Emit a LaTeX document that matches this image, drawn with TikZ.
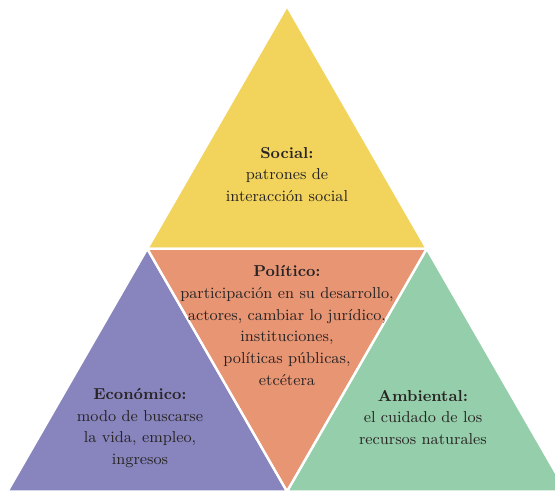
\documentclass[tikz,border=0pt]{standalone}
\usepackage{xcolor}
\usepackage{tikz}

\definecolor{socialyellow}{RGB}{242,212,92}
\definecolor{politicsalmon}{RGB}{232,149,116}
\definecolor{economicpurple}{RGB}{135,132,190}
\definecolor{ambientgreen}{RGB}{149,206,170}
\definecolor{textgrey}{RGB}{40,36,36}

\begin{document}
\begin{tikzpicture}
        % Define styles
        \tikzset{
            piece/.style={draw=white, line width=1.3pt, line join=round},
            areatext/.style={align=center, text=textgrey, font=\fontsize{9}{12.4}\selectfont}
        }
        \useasboundingbox (0,0) rectangle (11.1,9.8);

        % Corners
        \coordinate (apex) at (5.74,9.68);
        \coordinate (base_left) at (0.15,-0.03);
        \coordinate (base_right) at (11.33,-0.03);
        \coordinate (mid_left) at (2.945,4.825);
        \coordinate (mid_right) at (8.535,4.825);
        \coordinate (mid_base) at (5.74,-0.03);

        % Triangles
        \fill[socialyellow] (apex) -- (mid_left) -- (mid_right) -- cycle;
        \fill[politicsalmon] (mid_left) -- (mid_right) -- (mid_base) -- cycle;
        \fill[economicpurple] (mid_left) -- (base_left) -- (mid_base) -- cycle;
        \fill[ambientgreen] (mid_right) -- (mid_base) -- (base_right) -- cycle;
        \draw[piece] (apex) -- (mid_left) -- (mid_right) -- cycle;
        \draw[piece] (mid_left) -- (mid_right) -- (mid_base) -- cycle;
        \draw[piece] (mid_left) -- (base_left) -- (mid_base) -- cycle;
        \draw[piece] (mid_right) -- (mid_base) -- (base_right) -- cycle;

        % Nodes
        \node[areatext] (social_text) at (5.74,6.31) {\textbf{Social:}\\ patrones de\\ interacción social};
        \node[areatext] (politic_text) at (5.74,3.29) {\textbf{Político:}\\ participación en su desarrollo,\\ actores, cambiar lo jurídico,\\ instituciones,\\ políticas públicas,\\ etcétera};
        \node[areatext] (economic_text) at (2.8,1.24) {\textbf{Económico:}\\ modo de buscarse\\ la vida, empleo,\\ ingresos};
        \node[areatext] (ambient_text) at (8.46,1.45) {\textbf{Ambiental:}\\ el cuidado de los\\ recursos naturales};
\end{tikzpicture}
\end{document}
